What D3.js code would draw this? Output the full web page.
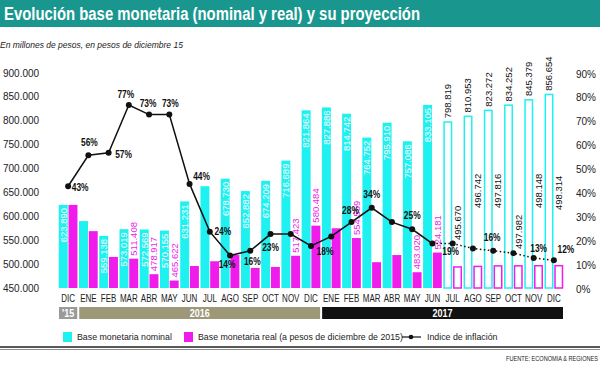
<!DOCTYPE html>
<html>
<head>
<meta charset="utf-8">
<script src="https://cdn.jsdelivr.net/npm/d3@7"></script>
<style>
  body { margin: 0; background: #fff; }
  svg { display: block; }
  text { font-family: Arial, "Liberation Sans", sans-serif; }
</style>
</head>
<body>
<div id="chart"></div>
<script>
// months shown on the x axis (Dec 2015 .. Dec 2017)
const months = ["DIC","ENE","FEB","MAR","ABR","MAY","JUN","JUL","AGO","SEP","OCT","NOV","DIC",
                "ENE","FEB","MAR","ABR","MAY","JUN","JUL","AGO","SEP","OCT","NOV","DIC"];

// base monetaria nominal (millones)
const nominal = [623890, 590000, 559138, 573019, 572569, 570155, 631231, 663000, 678730, 652882, 674209, 716689, 821864,
                 827886, 814742, 764752, 795910, 757086, 833105, 798819, 810953, 823272, 834252, 845379, 856654];

// base monetaria real (pesos de dic 2015)
const real = [623890, 569000, 515000, 511408, 478917, 465622, 496000, 506000, 519000, 492000, 494000, 517423, 580484,
              575000, 554559, 504000, 519000, 483020, 524181, 495670, 496742, 497816, 497982, 498148, 498314];

// inflacion interanual (%)
const inflation = [43, 56, 57, 77, 73, 73, 44, 24, 14, 16, 23, 23, 18,
                   22, 28, 34, 28, 25, 19, 19, 17, 16, 15, 13, 12];

// which values carry a printed label
const nominalLabeled = [0, 2, 3, 4, 5, 6, 8, 9, 10, 11, 12, 13, 14, 15, 16, 17, 18, 19, 20, 21, 22, 23, 24];
const realLabeled = [3, 4, 5, 11, 12, 14, 17, 18, 19, 20, 21, 22, 23, 24];
const inflationLabeled = [0, 1, 2, 3, 4, 5, 6, 7, 8, 9, 10, 12, 14, 15, 17, 19, 21, 23, 24];

const firstProjected = 19;   // JUL 2017 onwards is a projection

const yearLabels = ["'15", "2016", "2017"];
const yearSpans = [[0, 0], [1, 12], [13, 24]];

const leftTicks = [450000, 500000, 550000, 600000, 650000, 700000, 750000, 800000, 850000, 900000];
const rightTicks = [0, 10, 20, 30, 40, 50, 60, 70, 80, 90];

const width = 600, height = 365;
const cyan = "#1ff0f0", magenta = "#f01cec", teal = "#19978f";
const squeeze = 0.8;   // fake a condensed face

const fmt = d3.format(",");
const thousands = v => fmt(v).replace(/,/g, ".");

const svg = d3.select("#chart").append("svg")
    .attr("width", width)
    .attr("height", height);

// title banner
svg.append("rect").attr("x", 0).attr("y", 0).attr("width", width).attr("height", 27).attr("fill", teal);
svg.append("text")
    .attr("x", 4).attr("y", 20)
    .attr("fill", "#fff")
    .attr("font-size", 17.5).attr("font-weight", "bold")
    .attr("textLength", 416).attr("lengthAdjust", "spacingAndGlyphs")
    .text("Evolución base monetaria (nominal y real) y su proyección");

svg.append("text")
    .attr("x", 0).attr("y", 48)
    .attr("font-size", 8.5).attr("font-style", "italic").attr("fill", "#222")
    .text("En millones de pesos, en pesos de diciembre 15");

// scales
const x = d3.scaleBand().domain(d3.range(months.length)).range([58, 564]);
const xs = d3.scaleBand().domain(["n", "r"]).range([0, x.bandwidth()]).paddingInner(0.08).paddingOuter(0.08);
const y = d3.scaleLinear().domain([450000, 900000]).range([288, 73]);
const yp = d3.scaleLinear().domain([0, 90]).range([289, 74]);

// axes (labels only)
svg.append("g").selectAll("text").data(leftTicks).join("text")
    .attr("x", 3).attr("y", d => y(d)).attr("dy", "0.35em")
    .attr("font-size", 10).attr("fill", "#222")
    .text(d => thousands(d));

svg.append("g").selectAll("text").data(rightTicks).join("text")
    .attr("x", 576).attr("y", d => yp(d)).attr("dy", "0.35em")
    .attr("font-size", 10).attr("fill", "#222")
    .text(d => d + "%");

// bars
const idx = d3.range(months.length);
const bars = svg.append("g");
const proj = i => i >= firstProjected;

bars.selectAll("rect.nom").data(idx).join("rect")
    .attr("class", "nom")
    .attr("x", i => x(i) + xs("n") + (proj(i) ? 0.75 : 0))
    .attr("y", i => y(nominal[i]) + (proj(i) ? 0.75 : 0))
    .attr("width", i => xs.bandwidth() - (proj(i) ? 1.5 : 0))
    .attr("height", i => y(450000) - y(nominal[i]) - (proj(i) ? 0.75 : 0))
    .attr("fill", i => proj(i) ? "#fff" : cyan)
    .attr("stroke", i => proj(i) ? cyan : "none")
    .attr("stroke-width", 1.5);

bars.selectAll("rect.real").data(idx).join("rect")
    .attr("class", "real")
    .attr("x", i => x(i) + xs("r") + (proj(i) ? 0.75 : 0))
    .attr("y", i => y(real[i]) + (proj(i) ? 0.75 : 0))
    .attr("width", i => xs.bandwidth() - (proj(i) ? 1.5 : 0))
    .attr("height", i => y(450000) - y(real[i]) - (proj(i) ? 0.75 : 0))
    .attr("fill", i => proj(i) ? "#fff" : magenta)
    .attr("stroke", i => proj(i) ? magenta : "none")
    .attr("stroke-width", 1.5);

// value labels, rotated
const cx = (i, k) => x(i) + xs(k) + xs.bandwidth() / 2;

bars.selectAll("text.nomlab").data(nominalLabeled).join("text")
    .attr("class", "nomlab")
    .attr("transform", i => proj(i)
        ? `translate(${cx(i, "n")},${y(nominal[i]) - 3}) rotate(-90)`
        : `translate(${cx(i, "n")},${y(nominal[i]) + 3}) rotate(-90)`)
    .attr("text-anchor", i => proj(i) ? "start" : "end")
    .attr("dy", "0.35em")
    .attr("font-size", 9.5)
    .attr("fill", i => proj(i) ? "#111" : "#fff")
    .text(i => thousands(nominal[i]));

// projected real labels sit above the inflation line
const realLabelBottom = {19: 240, 20: 208, 21: 208, 22: 249, 23: 208, 24: 210};

bars.selectAll("text.reallab").data(realLabeled).join("text")
    .attr("class", "reallab")
    .attr("transform", i => {
        const b = realLabelBottom[i] !== undefined ? realLabelBottom[i] : y(real[i]) - 3;
        return `translate(${cx(i, "r")},${b}) rotate(-90)`;
    })
    .attr("text-anchor", "start")
    .attr("dy", "0.35em")
    .attr("font-size", 9.5)
    .attr("fill", i => proj(i) ? "#111" : magenta)
    .text(i => thousands(real[i]));

// inflation line
const px = i => x(i) + x.bandwidth() / 2;
const line = d3.line().x(i => px(i)).y(i => yp(inflation[i]));

svg.append("path")
    .datum(d3.range(0, firstProjected))
    .attr("d", line)
    .attr("fill", "none").attr("stroke", "#111").attr("stroke-width", 1.5);

svg.append("path")
    .datum(d3.range(firstProjected - 1, months.length))
    .attr("d", line)
    .attr("fill", "none").attr("stroke", "#111").attr("stroke-width", 1.5)
    .attr("stroke-dasharray", "1.5,2.5");

svg.append("g").selectAll("circle").data(idx).join("circle")
    .attr("cx", i => px(i)).attr("cy", i => yp(inflation[i]))
    .attr("r", 3).attr("fill", "#111");

// where each percent label sits relative to its point
const pctOffset = {
    0: [12, 1], 1: [1, -13], 2: [15, 1], 3: [-3, -11], 4: [-1, -11], 5: [1, -11],
    6: [12, -8], 7: [13, 0], 8: [-3, 9], 9: [2, 11], 10: [0, 13], 12: [14, 5],
    14: [-1, -12], 15: [0, -13], 17: [0, -14], 19: [-2, 8], 21: [-1, -13],
    23: [5, -10], 24: [12, -11]
};

svg.append("g").selectAll("text").data(inflationLabeled).join("text")
    .attr("transform", i => `translate(${px(i) + pctOffset[i][0]},${yp(inflation[i]) + pctOffset[i][1]}) scale(${squeeze},1)`)
    .attr("dy", "0.35em")
    .attr("text-anchor", "middle")
    .attr("font-size", 10.5).attr("font-weight", "bold").attr("fill", "#111")
    .text(i => inflation[i] + "%");

// month labels
svg.append("g").selectAll("text").data(idx).join("text")
    .attr("transform", i => `translate(${px(i)},302) scale(${squeeze},1)`)
    .attr("text-anchor", "middle")
    .attr("font-size", 10).attr("fill", "#222")
    .text(i => months[i]);

// year bands
const yearFill = ["#9a9a9a", "#9c9878", "#111"];
const yg = svg.append("g");
yg.selectAll("rect").data(yearSpans).join("rect")
    .attr("x", d => x(d[0]) + 1)
    .attr("y", 307)
    .attr("width", d => x(d[1]) + x.bandwidth() - x(d[0]) - 2)
    .attr("height", 12)
    .attr("fill", (d, k) => yearFill[k]);
yg.selectAll("text").data(yearSpans).join("text")
    .attr("transform", d => `translate(${(x(d[0]) + x(d[1]) + x.bandwidth()) / 2},313) scale(0.9,1)`)
    .attr("dy", "0.36em")
    .attr("text-anchor", "middle")
    .attr("font-size", 10).attr("font-weight", "bold").attr("fill", "#fff")
    .text((d, k) => yearLabels[k]);

// legend
const lg = svg.append("g").attr("font-size", 8.8).attr("fill", "#222");
lg.append("rect").attr("x", 63).attr("y", 332).attr("width", 9).attr("height", 10).attr("fill", cyan);
lg.append("text").attr("x", 77).attr("y", 340).text("Base monetaria nominal");
lg.append("rect").attr("x", 184).attr("y", 332).attr("width", 9).attr("height", 10).attr("fill", magenta);
lg.append("text").attr("x", 198).attr("y", 340).text("Base monetaria real (a pesos de diciembre de 2015)");
lg.append("line").attr("x1", 402).attr("x2", 421).attr("y1", 337).attr("y2", 337).attr("stroke", "#111").attr("stroke-width", 1.2);
lg.append("circle").attr("cx", 411).attr("cy", 337).attr("r", 2.3).attr("fill", "#111");
lg.append("text").attr("x", 427).attr("y", 340).text("Indice de inflación");

// footer rules and source
svg.append("line").attr("x1", 0).attr("x2", width).attr("y1", 347).attr("y2", 347).attr("stroke", "#222").attr("stroke-width", 1.5);
svg.append("line").attr("x1", 0).attr("x2", width).attr("y1", 349.5).attr("y2", 349.5).attr("stroke", "#444").attr("stroke-width", 0.6);
svg.append("text")
    .attr("transform", `translate(598,361) scale(${squeeze},1)`)
    .attr("text-anchor", "end")
    .attr("font-size", 7).attr("fill", "#222")
    .text("FUENTE: ECONOMIA & REGIONES");
</script>
</body>
</html>
